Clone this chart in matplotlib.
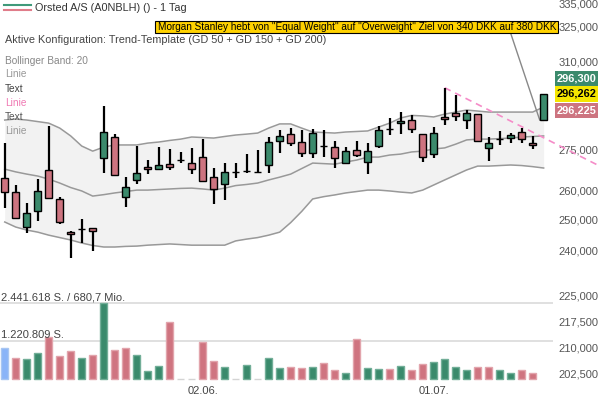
import matplotlib
matplotlib.use("Agg")
import matplotlib.pyplot as plt
import matplotlib.transforms as mtransforms
from matplotlib.lines import Line2D
from matplotlib.patches import Rectangle

plt.rcParams['font.family'] = ['Liberation Sans', 'DejaVu Sans']

# daily candles (index 0 .. 49)
opens = [264500, 259500, 247500, 253100, 267500, 257200, 245800, 246800, 247200, 271700,
         279800, 257800, 263900, 268400, 267800, 269500, 271000, 269900, 272100, 264800,
         262300, 266700, 267100, 266600, 269300, 278200, 280800, 277700, 273600, 276400,
         275800, 269900, 274700, 270400, 276300, 282700, 285000, 286200, 280800, 273200,
         287500, 288800, 286200, 288500, 275400, 278900, 279400, 281700, 277300, 286100]
highs = [277300, 262100, 255700, 264200, 283900, 258000, 246400, 250200, 247400, 291700,
         280800, 264800, 276300, 271100, 275800, 275200, 274100, 275400, 278800, 268100,
         269900, 269900, 273300, 274800, 279600, 282400, 283300, 282500, 282900, 282500,
         278300, 276000, 278300, 277300, 284000, 286900, 289400, 288200, 280800, 283600,
         299000, 296000, 290100, 288500, 279800, 281800, 281100, 283100, 280100, 296600]
lows = [254000, 250200, 245500, 249500, 257100, 248500, 237300, 242200, 239700, 266300,
        265600, 254300, 262500, 265900, 267500, 267500, 269900, 265900, 263200, 255300,
        256800, 264500, 266300, 266300, 266300, 273600, 276300, 272300, 271700, 272300,
        268100, 269600, 272100, 265900, 275400, 280500, 280800, 281300, 270500, 271700,
        284300, 285900, 282600, 278300, 270700, 276700, 277300, 277500, 275100, 285800]
closes = [259500, 250500, 252200, 260000, 257400, 249400, 245200, 246800, 246200, 281500,
          265700, 261500, 266300, 267700, 269300, 268400, 271000, 267700, 263400, 260600,
          266600, 266700, 267100, 266600, 277700, 280100, 277300, 273600, 281100, 276400,
          271700, 274300, 272800, 274300, 282500, 282700, 285800, 282600, 272100, 281100,
          286500, 287800, 288800, 278300, 277500, 278900, 280500, 278800, 276600, 296300]

# Bollinger band (20)
bb_upper = [286200, 286600, 286200, 285600, 285000, 283100, 280100, 276300, 274400, 275900,
            276700, 276700, 276700, 277400, 277800, 278400, 278900, 279700, 279500, 279300,
            279900, 280450, 280800, 281200, 283100, 284700, 284700, 283100, 281600, 281400,
            281200, 281600, 281800, 282000, 283500, 285000, 287000, 288000, 287800, 287400,
            288500, 289300, 290100, 289700, 289300, 289300, 289300, 289300, 289300, 291300]
bb_mid = [267800, 266800, 266000, 265300, 264200, 262800, 261200, 260000, 258200, 258700,
          259300, 259800, 260300, 260300, 260500, 260700, 260900, 261000, 260700, 260300,
          261000, 261900, 262300, 262800, 263900, 264900, 266000, 268000, 270000, 269800,
          269600, 270400, 271100, 272200, 272200, 272950, 273300, 274100, 274400, 275200,
          275600, 277000, 278600, 278900, 278900, 279100, 279300, 279700, 279900, 280100]
bb_lower = [249300, 247600, 246600, 245900, 244900, 244100, 243300, 242300, 241500, 241000,
            241000, 241200, 241300, 241600, 241800, 242000, 241800, 241600, 241600, 241600,
            241600, 243000, 243600, 244100, 244900, 245900, 249100, 252900, 257200, 258000,
            258600, 259300, 259800, 260300, 260300, 260000, 259600, 259300, 260300, 262100,
            263900, 265700, 267500, 268900, 268900, 269100, 269300, 269100, 268700, 268200]

# trend line drawn from the high of day 40
trend_x = [40, 53.9]
trend_y = [299000, 269300]

# volume (shares), 'b' = first day, 'u' = up, 'd' = down, 'n' = no trade
volumes = [984000, 670000, 628000, 832000, 1350000, 735000, 887000, 660000, 767000, 2441618,
           920000, 994000, 767000, 240000, 411000, 1826000, 0, 0, 1188000, 563000,
           369000, 0, 453000, 0, 680000, 356000, 379000, 356000, 379000, 508000,
           282000, 175000, 1295000, 337000, 314000, 314000, 401000, 272000, 476000, 541000,
           638000, 379000, 291000, 369000, 379000, 291000, 185000, 272000, 175000]
vol_dir = ['b', 'd', 'u', 'u', 'd', 'd', 'd', 'u', 'd', 'u',
           'd', 'd', 'u', 'u', 'u', 'd', 'n', 'n', 'd', 'd',
           'u', 'n', 'u', 'n', 'u', 'u', 'd', 'd', 'u', 'd',
           'd', 'u', 'd', 'u', 'u', 'd', 'u', 'd', 'd', 'u',
           'u', 'u', 'u', 'd', 'd', 'u', 'u', 'd', 'd']
turnover_mio = 680.7

price_ticks = [335000, 325000, 310000, 275000, 260000, 250000, 240000]
vol_axis_ticks = [202500, 210000, 217500, 225000]
date_pos = [18, 39]
date_labels = ['02.06.', '01.07.']
last_tags = [296300, 296262, 296225]

title = 'Orsted A/S (A0NBLH) () - 1 Tag'
config_text = 'Aktive Konfiguration: Trend-Template (GD 50 + GD 150 + GD 200)'
news = 'Morgan Stanley hebt von "Equal Weight" auf "Overweight" Ziel von 340 DKK auf 380 DKK'

W, H = 598, 399


def fx(px):
    return px / W


def fy(py):
    return 1 - py / H


def de(v):
    return f"{v:,}"


fig = plt.figure(figsize=(W / 100, H / 100), dpi=100)

# price pane
ax = fig.add_axes([0, fy(265), fx(553), 265 / H])
ax.set_yscale('log')
ax.set_ylim(235200, 336700)
ax.set_xlim(-0.43, 49.85)
days = list(range(len(opens)))

ax.fill_between(days, bb_lower, bb_upper, color='#f2f2f2', lw=0, zorder=1)
for band in (bb_upper, bb_mid, bb_lower):
    ax.plot(days, band, color='#999999', lw=1.1, zorder=2)

ax.plot(trend_x, trend_y, color='#f58cc8', lw=1.2, dashes=(4, 3), zorder=3, clip_on=False)

ax.vlines(days, lows, highs, color='black', lw=1.6, zorder=4)
for i in days:
    o, c = opens[i], closes[i]
    if c > o:
        col = '#3b8a6c'
    elif c < o:
        col = '#cd7480'
    else:
        col = 'black'
    ax.bar(i, abs(c - o), bottom=min(o, c), width=0.64, color=col,
           edgecolor='black', lw=1.0, zorder=5)

ax.yaxis.tick_right()
ax.minorticks_off()
ax.set_yticks(price_ticks)
ax.set_yticklabels([de(v) for v in price_ticks])
ax.tick_params(axis='y', length=0, pad=4, labelsize=8, labelcolor='#555555')
ax.set_xticks([])
for s in ax.spines.values():
    s.set_visible(False)

# volume pane
vmax = max(volumes)
vax = fig.add_axes([0, fy(378.7), fx(553), (378.7 - 290) / H])
vax.set_xlim(-0.43, 49.85)
vax.set_ylim(0, vmax * 88.7 / 75.4)
vax.axhline(vmax, color='#dddddd', lw=1.3, zorder=0)
vax.axhline(vmax / 2, color='#dddddd', lw=1.3, zorder=0)

fills = {'u': '#3a8a6c', 'd': '#cf7480', 'b': '#8ab4f8', 'n': '#dddddd'}
edges = {'u': '#72ae98', 'd': '#e2a4ac', 'b': '#a8c6f2', 'n': '#d4d4d4'}
vdays = list(range(len(volumes)))
vbars = vax.bar(vdays, volumes, width=0.64, color=[fills[d] for d in vol_dir],
                edgecolor=[edges[d] for d in vol_dir], lw=1.0, zorder=2)
for b in vbars:
    b.set_clip_on(False)

trans = mtransforms.blended_transform_factory(vax.transAxes, vax.transData)
vax.annotate(f"{de(vmax).replace(',', '.')} S. / {str(turnover_mio).replace('.', ',')} Mio.",
             xy=(0, vmax), xycoords=trans, xytext=(0.5, 2), textcoords='offset points',
             va='baseline', ha='left', fontsize=8, color='#444444')
vax.annotate(f"{de(round(vmax / 2)).replace(',', '.')} S.",
             xy=(0, vmax / 2), xycoords=trans, xytext=(0.5, 2), textcoords='offset points',
             va='baseline', ha='left', fontsize=8, color='#444444')

vax.set_xticks(date_pos)
vax.set_xticklabels(date_labels)
vax.tick_params(axis='x', length=0, pad=5.5, labelsize=8, labelcolor='#444444')
vax.set_yticks([])
for s in vax.spines.values():
    s.set_visible(False)

vt = vax.twinx()
vt.set_ylim(200928, 226746)
vt.set_yticks(vol_axis_ticks)
vt.set_yticklabels([de(v) for v in vol_axis_ticks])
vt.tick_params(axis='y', length=0, pad=4, labelsize=8, labelcolor='#555555')
for s in vt.spines.values():
    s.set_visible(False)

# last price tags
tag_style = [('#3b8a6c', 'white', 71, 86), ('#f5e600', 'black', 86, 102), ('#cd7480', 'white', 103, 118)]
for v, (bg, fg, top, bot) in zip(last_tags, tag_style):
    fig.add_artist(Rectangle((fx(555), fy(bot)), fx(W) - fx(555), (bot - top) / H,
                             transform=fig.transFigure, color=bg, lw=0))
    fig.text(fx(557), fy((top + bot) / 2), de(v), color=fg, fontsize=7.9,
             fontweight='bold', va='center', ha='left')

# header
fig.add_artist(Line2D([fx(4), fx(31)], [fy(5), fy(5)], transform=fig.transFigure,
                      color='#3f9a7a', lw=1.5))
fig.add_artist(Line2D([fx(4), fx(31)], [fy(10), fy(10)], transform=fig.transFigure,
                      color='#e07c8a', lw=1.5))
fig.text(fx(35), fy(8), title, fontsize=7.85, color='#333333', va='center', ha='left')
fig.text(fx(5), fy(40), config_text, fontsize=7.85, color='#444444', va='center', ha='left')

side = [('Bollinger Band: 20', '#888888', 61), ('Linie', '#999999', 74), ('Text', '#444444', 89),
        ('Linie', '#f07ab4', 103), ('Text', '#555555', 117), ('Linie', '#999999', 131)]
for txt, col, yy in side:
    fig.text(fx(5), fy(yy), txt, fontsize=7.3, color=col, va='center', ha='left')

# news box with connector to the last candle
fig.add_artist(Rectangle((fx(155), fy(32.7)), fx(558) - fx(155), 12 / H,
                         transform=fig.transFigure, facecolor='#ffd200',
                         edgecolor='black', lw=0.8))
fig.text(fx(157.7), fy(26.7), news, fontsize=7.2, color='black', va='center', ha='left')
ax.annotate('', xy=(len(opens) - 1.35, opens[-1]), xycoords='data',
            xytext=(510.5, H - 32.7), textcoords='figure pixels',
            arrowprops=dict(arrowstyle='-', color='#888888', lw=1, shrinkA=0, shrinkB=0),
            annotation_clip=False)

fig.savefig('out.png', dpi=100)
